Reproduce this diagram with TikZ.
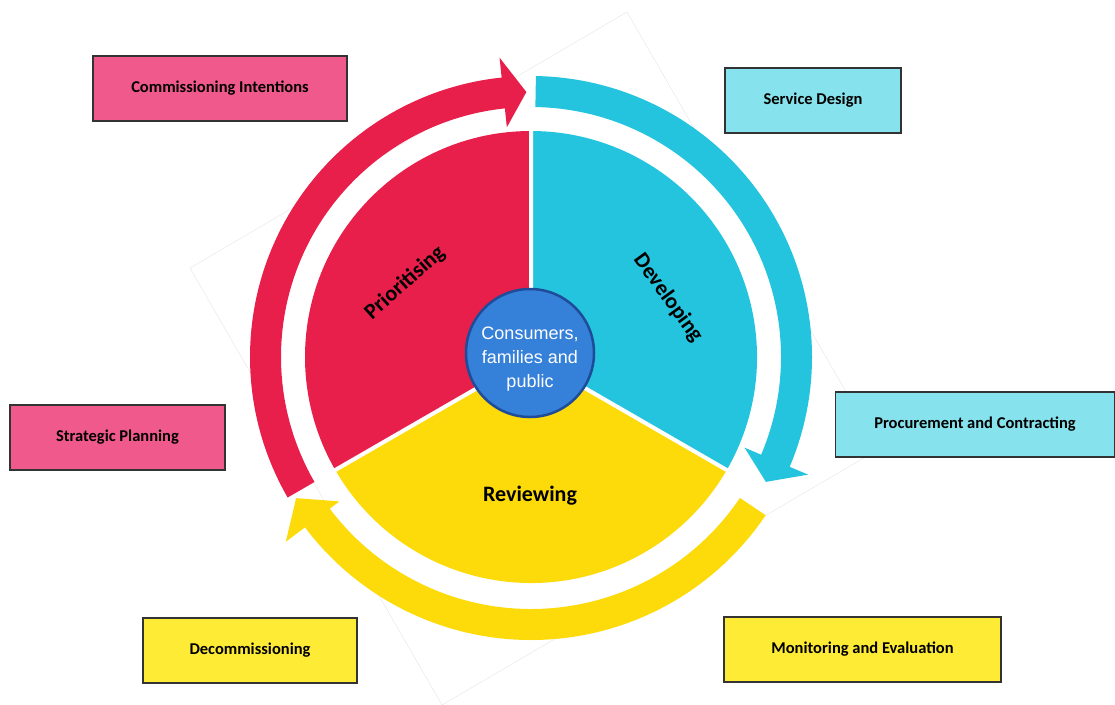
\documentclass[tikz,border=0pt]{standalone}
\usepackage{fontspec}
\setmainfont{Carlito}
\newfontfamily\arialf{Liberation Sans}
\definecolor{cred}{HTML}{E81F4B}
\definecolor{ccyan}{HTML}{24C4DE}
\definecolor{cyel}{HTML}{FDDA0A}
\definecolor{bpink}{HTML}{F0598B}
\definecolor{bcyan}{HTML}{86E2EC}
\definecolor{byel}{HTML}{FEEB36}
\definecolor{cblue}{HTML}{3580D8}
\definecolor{cbord}{HTML}{1E4C98}
\begin{document}
\begin{tikzpicture}[x=1pt,y=1pt,
  box/.style={draw=black!80, line width=1.5pt, minimum height=65pt, inner sep=0pt,
    font=\fontsize{16.5}{19}\selectfont\bfseries, text=black},
  phase/.style={font=\fontsize{22}{26}\selectfont\bfseries, text=black, inner sep=0pt}]
\useasboundingbox (0,0) rectangle (1115,-704);
% faint rotated square
\draw[black!9, line width=0.5pt] (627,-12) -- (879,-449) -- (442,-705) -- (190,-268) -- cycle;
\begin{scope}[shift={(531,-357)}]
  % pie
  \fill[cred] (0,0) -- (90:226) arc[start angle=90,end angle=210,radius=226] -- cycle;
  \fill[ccyan] (0,0) -- (-30:226) arc[start angle=-30,end angle=90,radius=226] -- cycle;
  \fill[cyel] (0,0) -- (210:226) arc[start angle=210,end angle=330,radius=226] -- cycle;
  \draw[white, line width=4pt] (0,0) -- (90:230) (0,0) -- (210:230) (0,0) -- (330:230);
  % ring arrows
  \fill[cred] (210:281) arc[start angle=210,end angle=96,radius=281] -- (96:301) -- (91:265)
     -- (96:231) -- (96:250) arc[start angle=96,end angle=210,radius=250] -- cycle;
  \fill[ccyan] (89:281) arc[start angle=89,end angle=-23,radius=281] -- (-23:301) -- (-28:266)
     -- (-23:232) -- (-23:250) arc[start angle=-23,end angle=89,radius=250] -- cycle;
  \fill[cyel] (-34:283) arc[start angle=-34,end angle=-143,radius=283] -- (217:307) -- (211:274)
     -- (217:240) -- (217:252) arc[start angle=-143,end angle=-34,radius=252] -- cycle;
  % centre
  \node[circle, fill=cblue, draw=cbord, line width=2.5pt, minimum size=128pt, inner sep=0pt] (core) at (-1,4) {};
  \node[text=white, align=center, inner sep=0pt, font=\arialf\fontsize{18}{24}\selectfont] (coretext) at (-1,-2)
    {Consumers,\\families and\\public};
  \node[phase, rotate=42] (prio) at (-126,74) {Prioritising};
  \node[phase, rotate=-54] (dev) at (137,59) {Developing};
  \node[phase] (rev) at (-1,-139) {Reviewing};
\end{scope}
% boxes
\node[box, fill=bpink, minimum width=254pt] (ci) at (220,-88.5) {Commissioning Intentions};
\node[box, fill=bcyan, minimum width=176pt] (sd) at (813,-100.5) {Service Design};
\node[box, fill=bpink, minimum width=215pt] (sp) at (117.5,-437.5) {Strategic Planning};
\node[box, fill=bcyan, minimum width=279pt] (pc) at (975,-424.5) {Procurement and Contracting};
\node[box, fill=byel, minimum width=214pt] (dc) at (250,-650.5) {Decommissioning};
\node[box, fill=byel, minimum width=277pt] (me) at (862.5,-649.5) {Monitoring and Evaluation};
\end{tikzpicture}
\end{document}
